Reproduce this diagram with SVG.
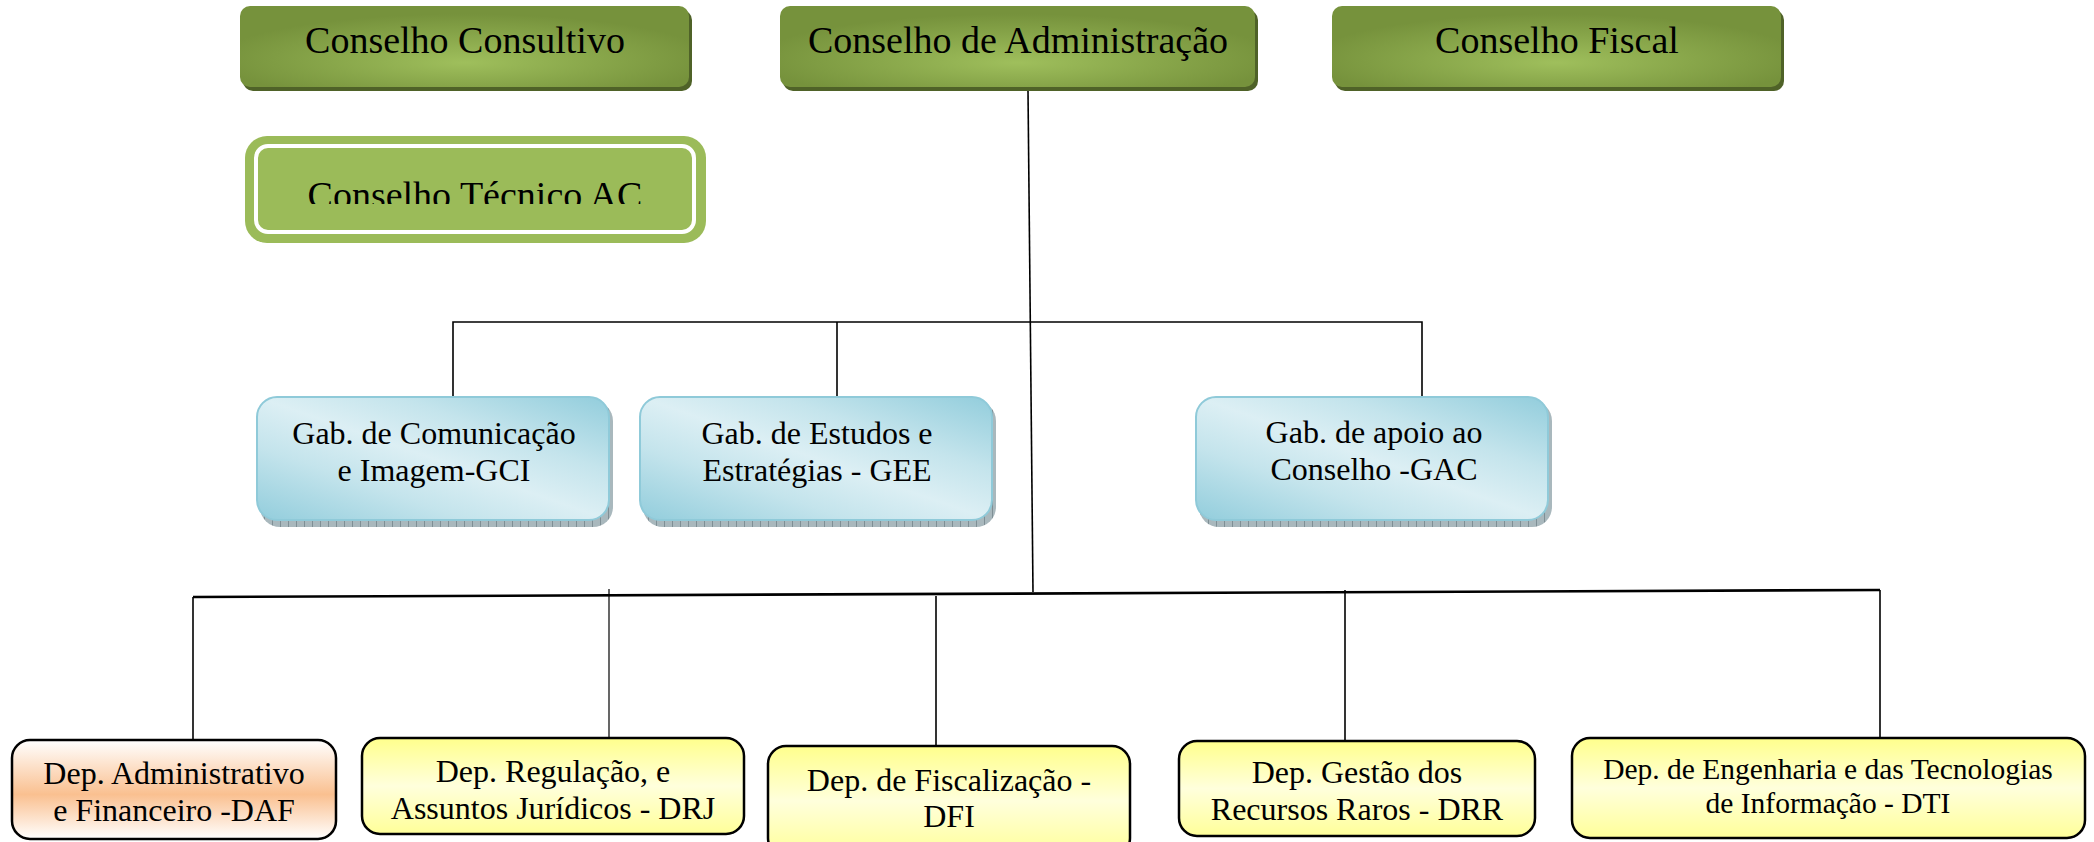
<svg xmlns="http://www.w3.org/2000/svg" width="2094" height="842" viewBox="0 0 2094 842">
<style>
.t{font-family:"Liberation Serif","Times New Roman",serif;fill:#000;text-anchor:middle}
.big{font-size:38px}
.mid{font-size:32px}
.sm{font-size:29.5px}
.gshadow{fill:#4F6228}
.gbody{fill:url(#gGreen)}
.bshadow{fill:url(#hatch)}
.bbody{fill:url(#gBlue);stroke:#8FCAD9;stroke-width:2}
.dep{stroke:#000;stroke-width:2.5}
.ln{stroke:#000;stroke-width:1.6;fill:none}
</style>
<defs>
<radialGradient id="gGreen" cx="50%" cy="65%" r="55%" fx="50%" fy="70%">
<stop offset="0" stop-color="#9FBF5C"/>
<stop offset="0.55" stop-color="#88A64A"/>
<stop offset="1" stop-color="#76923C"/>
</radialGradient>
<linearGradient id="gBlue" x1="1" y1="0" x2="0" y2="1">
<stop offset="0" stop-color="#92CDDC"/>
<stop offset="0.3" stop-color="#C4E4EC"/>
<stop offset="0.5" stop-color="#DCEFF4"/>
<stop offset="0.7" stop-color="#C4E4EC"/>
<stop offset="1" stop-color="#92CDDC"/>
</linearGradient>
<linearGradient id="gOrange" x1="0" y1="0" x2="0" y2="1">
<stop offset="0" stop-color="#FFFFFF"/>
<stop offset="0.55" stop-color="#FAC090"/>
<stop offset="1" stop-color="#FFFFFF"/>
</linearGradient>
<linearGradient id="gYellow" x1="0" y1="0" x2="0" y2="1">
<stop offset="0" stop-color="#FFFF8C"/>
<stop offset="0.5" stop-color="#FFFFDC"/>
<stop offset="1" stop-color="#FFFF99"/>
</linearGradient>
<pattern id="hatch" width="8" height="8" patternUnits="userSpaceOnUse">
<rect width="8" height="8" fill="#A9B8BD"/>
<line x1="0.5" y1="0" x2="0.5" y2="8" stroke="#7F8F95" stroke-width="1"/>
</pattern>
<clipPath id="clipTec"><rect x="256" y="146" width="438" height="58"/></clipPath>
</defs>

<g id="connectors">
<path class="ln" d="M1028 91 L1033 592"/>
<path class="ln" d="M453 397 V322 H1422 V397"/>
<path class="ln" d="M837 322 V397"/>
<path class="ln" d="M193 597 L1880 590" style="stroke-width:2.6"/>
<path class="ln" d="M193 597 V740"/>
<path class="ln" d="M609 589 V738" style="stroke-width:1.2"/>
<path class="ln" d="M936 596 V745"/>
<path class="ln" d="M1345 590 V741"/>
<path class="ln" d="M1880 590 V738"/>
</g>

<g id="conselho-consultivo">
<rect class="gshadow" x="243" y="10" width="449" height="81" rx="10"/>
<rect class="gbody" x="240" y="6" width="449" height="81" rx="10"/>
<text class="t big" x="465" y="53">Conselho Consultivo</text>
</g>
<g id="conselho-administracao">
<rect class="gshadow" x="783" y="10" width="475" height="81" rx="10"/>
<rect class="gbody" x="780" y="6" width="475" height="81" rx="10"/>
<text class="t big" x="1018" y="53">Conselho de Administração</text>
</g>
<g id="conselho-fiscal">
<rect class="gshadow" x="1335" y="10" width="449" height="81" rx="10"/>
<rect class="gbody" x="1332" y="6" width="449" height="81" rx="10"/>
<text class="t big" x="1557" y="53">Conselho Fiscal</text>
</g>

<g id="conselho-tecnico">
<rect x="245" y="136" width="461" height="107" rx="22" fill="#9BBB59"/>
<rect x="256" y="146" width="438" height="86" rx="12" fill="#9BBB59" stroke="#FFFFFF" stroke-width="4"/>
<text class="t big" x="475" y="208" clip-path="url(#clipTec)">Conselho Técnico AC</text>
</g>

<g id="gab-gci">
<rect class="bshadow" x="260" y="401" width="353" height="126" rx="20"/>
<rect class="bbody" x="257" y="397" width="352" height="123" rx="20"/>
<text class="t mid" x="434" y="444">Gab. de Comunicação</text>
<text class="t mid" x="434" y="481">e Imagem-GCI</text>
</g>
<g id="gab-gee">
<rect class="bshadow" x="643" y="401" width="353" height="126" rx="20"/>
<rect class="bbody" x="640" y="397" width="352" height="123" rx="20"/>
<text class="t mid" x="817" y="444">Gab. de Estudos e</text>
<text class="t mid" x="817" y="481">Estratégias - GEE</text>
</g>
<g id="gab-gac">
<rect class="bshadow" x="1199" y="401" width="353" height="126" rx="20"/>
<rect class="bbody" x="1196" y="397" width="352" height="123" rx="20"/>
<text class="t mid" x="1374" y="443">Gab. de apoio ao</text>
<text class="t mid" x="1374" y="480">Conselho -GAC</text>
</g>

<g id="dep-daf">
<rect class="dep" x="12" y="740" width="324" height="99" rx="18" fill="url(#gOrange)"/>
<text class="t mid" x="174" y="784">Dep. Administrativo</text>
<text class="t mid" x="174" y="821">e Financeiro -DAF</text>
</g>
<g id="dep-drj">
<rect class="dep" x="362" y="738" width="382" height="96" rx="18" fill="url(#gYellow)"/>
<text class="t mid" x="553" y="782">Dep. Regulação, e</text>
<text class="t mid" x="553" y="819">Assuntos Jurídicos - DRJ</text>
</g>
<g id="dep-dfi">
<rect class="dep" x="768" y="746" width="362" height="110" rx="18" fill="url(#gYellow)"/>
<text class="t mid" x="949" y="791">Dep. de Fiscalização -</text>
<text class="t mid" x="949" y="827">DFI</text>
</g>
<g id="dep-drr">
<rect class="dep" x="1179" y="741" width="356" height="95" rx="18" fill="url(#gYellow)"/>
<text class="t mid" x="1357" y="783">Dep. Gestão dos</text>
<text class="t mid" x="1357" y="820">Recursos Raros - DRR</text>
</g>
<g id="dep-dti">
<rect class="dep" x="1572" y="738" width="513" height="100" rx="18" fill="url(#gYellow)"/>
<text class="t sm" x="1828" y="779">Dep. de Engenharia e das Tecnologias</text>
<text class="t sm" x="1828" y="813">de Informação - DTI</text>
</g>
</svg>
